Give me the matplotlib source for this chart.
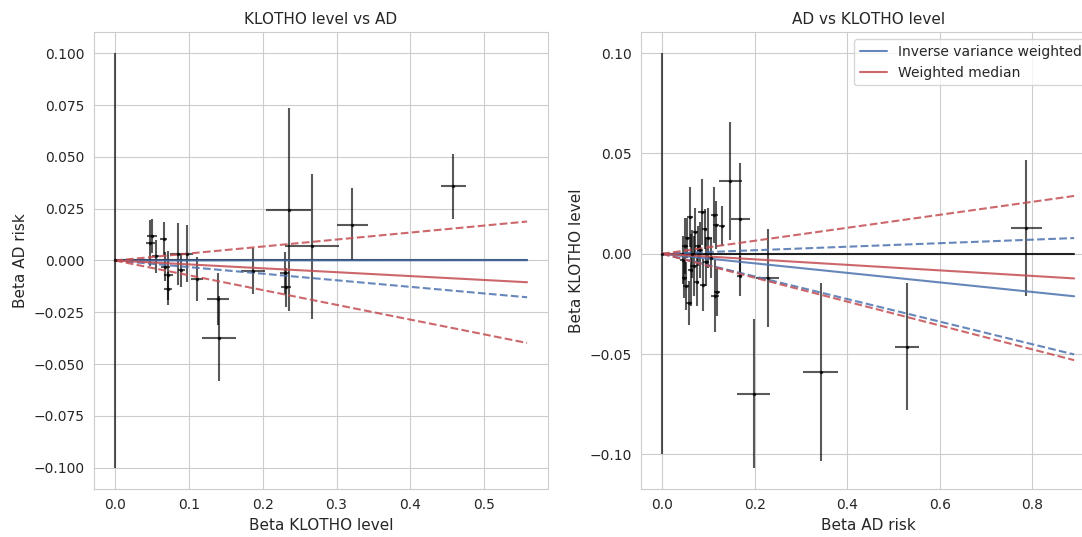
import matplotlib
matplotlib.use("Agg")
import matplotlib.pyplot as plt
import seaborn as sns
import numpy as np

sns.set_style("whitegrid")
plt.rcParams['font.family'] = ['DejaVu Sans']

# KLOTHO level -> AD risk (x: beta KLOTHO, y: beta AD)
k_x = [0.000, 0.050, 0.048, 0.055, 0.066, 0.068, 0.072, 0.072, 0.086, 0.090, 0.097,
       0.111, 0.139, 0.141, 0.187, 0.230, 0.232, 0.235, 0.267, 0.321, 0.458]
k_xerr = [0.000, 0.007, 0.006, 0.005, 0.005, 0.006, 0.006, 0.005, 0.012, 0.005, 0.008,
          0.008, 0.015, 0.0225, 0.016, 0.006, 0.007, 0.030, 0.037, 0.021, 0.017]
k_y = [0.000, 0.0118, 0.0085, 0.002, 0.0105, -0.003, -0.0072, -0.0137, 0.0032, -0.0048, 0.0032,
       -0.0089, -0.0185, -0.0375, -0.005, -0.006, -0.013, 0.0246, 0.0068, 0.0173, 0.0359]
k_yerr = [0.100, 0.008, 0.011, 0.008, 0.008, 0.007, 0.012, 0.008, 0.015, 0.008, 0.0137,
          0.0105, 0.0125, 0.0205, 0.011, 0.010, 0.0095, 0.049, 0.035, 0.0177, 0.0157]
k_xend = 0.558
k_ivw, k_ivw_ci = 0.0003, -0.0318
k_wm, k_wm_lo, k_wm_hi = -0.0188, -0.0713, 0.0337

# AD risk -> KLOTHO level (x: beta AD, y: beta KLOTHO)
a_x = [0.000, 0.045, 0.048, 0.050, 0.052, 0.055, 0.058, 0.060, 0.062, 0.065, 0.068, 0.072,
       0.075, 0.078, 0.082, 0.086, 0.088, 0.092, 0.095, 0.100, 0.105, 0.113, 0.115, 0.117,
       0.119, 0.129, 0.147, 0.169, 0.168, 0.198, 0.228, 0.343, 0.529, 0.787]
a_xerr = [0.000, 0.006, 0.005, 0.006, 0.006, 0.005, 0.006, 0.007, 0.005, 0.006, 0.007, 0.006,
          0.005, 0.006, 0.007, 0.008, 0.006, 0.006, 0.006, 0.007, 0.006, 0.008, 0.009, 0.007,
          0.006, 0.006, 0.025, 0.021, 0.005, 0.035, 0.025, 0.038, 0.026, 0.034]
a_y = [0.000, -0.003, -0.012, 0.004, -0.016, 0.008, -0.0245, 0.0184, -0.008, 0.000, -0.006, 0.011,
       -0.014, 0.004, 0.002, 0.021, -0.0154, 0.0125, -0.004, 0.008, -0.002, 0.0195, -0.021, 0.0144,
       -0.019, 0.0138, 0.0364, 0.0172, -0.011, -0.0697, -0.012, -0.0588, -0.0464, 0.0128]
a_yerr = [0.100, 0.012, 0.010, 0.014, 0.012, 0.010, 0.011, 0.015, 0.018, 0.012, 0.015, 0.012,
          0.012, 0.010, 0.014, 0.0165, 0.013, 0.010, 0.012, 0.015, 0.010, 0.014, 0.018, 0.012,
          0.012, 0.010, 0.0294, 0.028, 0.010, 0.037, 0.0245, 0.0443, 0.0316, 0.034]
a_xend = 0.89
a_ivw, a_ivw_lo, a_ivw_hi = -0.0238, -0.0564, 0.0088
a_wm, a_wm_lo, a_wm_hi = -0.0138, -0.0596, 0.0324

blue = '#4c72b0'
red = '#c44e52'

fig = plt.figure(figsize=(10.82, 5.37), dpi=100)
ax1 = fig.add_axes([0.0872, 0.0903, 0.419, 0.8492])
ax2 = fig.add_axes([0.5928, 0.0903, 0.419, 0.8492])

# left panel
xs = np.array([0, k_xend])
ax1.errorbar(k_x, k_y, xerr=k_xerr, yerr=k_yerr, fmt='.', color='black',
             ms=3, elinewidth=1.5, alpha=0.65)
ax1.plot(xs, 0 * xs, color='black', lw=1.5, alpha=0.85)
ax1.plot(xs, k_ivw * xs, color=blue, lw=1.5, alpha=0.85)
ax1.plot(xs, k_ivw_ci * xs, color=blue, lw=1.5, ls='--', alpha=0.85)
ax1.plot(xs, k_wm * xs, color=red, lw=1.5, alpha=0.85)
ax1.plot(xs, k_wm_lo * xs, color=red, lw=1.5, ls='--', alpha=0.85)
ax1.plot(xs, k_wm_hi * xs, color=red, lw=1.5, ls='--', alpha=0.85)
ax1.set_title('KLOTHO level vs AD', fontsize=11)
ax1.set_xlabel('Beta KLOTHO level', fontsize=11)
ax1.set_ylabel('Beta AD risk', fontsize=11)

# right panel
xs = np.array([0, a_xend])
ax2.errorbar(a_x, a_y, xerr=a_xerr, yerr=a_yerr, fmt='.', color='black',
             ms=3, elinewidth=1.5, alpha=0.65)
ax2.plot(xs, 0 * xs, color='black', lw=1.5, alpha=0.85)
ax2.plot(xs, a_ivw * xs, color=blue, lw=1.5, alpha=0.85, label='Inverse variance weighted')
ax2.plot(xs, a_ivw_lo * xs, color=blue, lw=1.5, ls='--', alpha=0.85)
ax2.plot(xs, a_ivw_hi * xs, color=blue, lw=1.5, ls='--', alpha=0.85)
ax2.plot(xs, a_wm * xs, color=red, lw=1.5, alpha=0.85, label='Weighted median')
ax2.plot(xs, a_wm_lo * xs, color=red, lw=1.5, ls='--', alpha=0.85)
ax2.plot(xs, a_wm_hi * xs, color=red, lw=1.5, ls='--', alpha=0.85)
ax2.set_title('AD vs KLOTHO level', fontsize=11)
ax2.set_xlabel('Beta AD risk', fontsize=11)
ax2.set_ylabel('Beta KLOTHO level', fontsize=11)
ax2.legend(loc='upper right', fontsize=10)

for ax in (ax1, ax2):
    ax.tick_params(labelsize=10)

fig.savefig('out.png', dpi=100)
